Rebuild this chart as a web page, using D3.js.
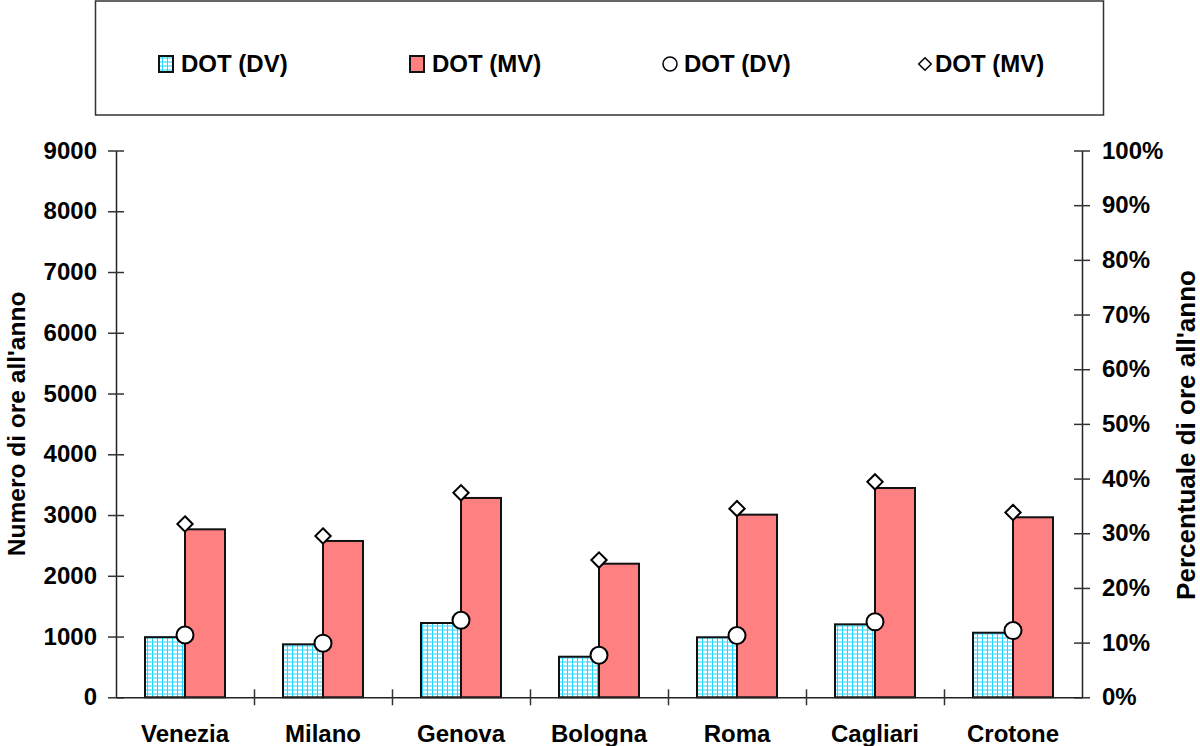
<!DOCTYPE html>
<html><head><meta charset="utf-8">
<script src="https://cdn.jsdelivr.net/npm/d3@7"></script>
<style>body{margin:0;background:#fff}svg{display:block}text{font-family:"Liberation Sans",Arial,sans-serif;font-weight:bold;fill:#000}</style>
</head><body>
<svg id="c" width="1200" height="746"></svg>
<script>
const categories = ["Venezia","Milano","Genova","Bologna","Roma","Cagliari","Crotone"];
const hoursDV = [990, 872, 1223, 668, 988, 1201, 1063];
const hoursMV = [2765, 2573, 3281, 2199, 3006, 3445, 2963];
const pctDV = [11.4, 9.9, 14.1, 7.7, 11.3, 13.8, 12.2];
const pctMV = [31.7, 29.5, 37.4, 25.1, 34.5, 39.4, 33.8];
const leftTicks = [0,1000,2000,3000,4000,5000,6000,7000,8000,9000];
const rightTicks = [0,10,20,30,40,50,60,70,80,90,100];
const legendLabels = ["DOT (DV)","DOT (MV)","DOT (DV)","DOT (MV)"];

const svg = d3.select("#c");
const L = 116, R = 1082, T = 150.5, B = 697.3;
const FS = 24;

const defs = svg.append("defs");
const pat = defs.append("pattern").attr("id","grid").attr("patternUnits","userSpaceOnUse")
  .attr("width",5).attr("height",4);
pat.append("rect").attr("width",5).attr("height",4).attr("fill","#fff");
pat.append("line").attr("x1",2.5).attr("x2",2.5).attr("y1",0).attr("y2",4).attr("stroke","#22d4ff").attr("stroke-width",1);
pat.append("line").attr("x1",0).attr("x2",5).attr("y1",2).attr("y2",2).attr("stroke","#22d4ff").attr("stroke-width",1);

const x = d3.scaleBand().domain(categories).range([L,R]);
const xi = d3.scaleLinear().domain([0,categories.length]).range([L,R]);
const y = d3.scaleLinear().domain([0,9000]).range([B,T]);
const yp = d3.scaleLinear().domain([0,100]).range([B,T]);
const BW = 40;

// bars
const g = svg.append("g");
g.selectAll(".dv").data(categories).join("rect")
  .attr("x", d => x(d)+x.bandwidth()/2-BW).attr("width",BW)
  .attr("y", (d,i) => y(hoursDV[i])).attr("height",(d,i)=> B - y(hoursDV[i]))
  .attr("fill","url(#grid)").attr("stroke","#111").attr("stroke-width",2);
g.selectAll(".mv").data(categories).join("rect")
  .attr("x", d => x(d)+x.bandwidth()/2).attr("width",BW)
  .attr("y", (d,i) => y(hoursMV[i])).attr("height",(d,i)=> B - y(hoursMV[i]))
  .attr("fill","#ff8080").attr("stroke","#111").attr("stroke-width",2);

// axes
const axStyle = sel => { sel.select(".domain").attr("stroke","#222").attr("stroke-width",1.5);
  sel.selectAll(".tick line").attr("stroke","#333").attr("stroke-width",1.5);
  sel.selectAll("text").style("font-size",FS+"px").style("font-weight","bold").style("font-family",'"Liberation Sans",Arial,sans-serif').attr("fill","#000"); };

const ax1 = svg.append("g").attr("transform",`translate(${L},0)`)
  .call(d3.axisLeft(y).tickValues(leftTicks).tickSizeInner(8).tickSizeOuter(0).tickPadding(11).tickFormat(d3.format("d")));
ax1.selectAll(".tick line").attr("x1",8);
axStyle(ax1);

const ax2 = svg.append("g").attr("transform",`translate(${R},0)`)
  .call(d3.axisRight(yp).tickValues(rightTicks).tickSizeInner(8).tickSizeOuter(0).tickPadding(12).tickFormat(d => d+"%"));
ax2.selectAll(".tick line").attr("x1",-8);
axStyle(ax2);

const ax3 = svg.append("g").attr("transform",`translate(0,${B})`)
  .call(d3.axisBottom(xi).tickValues(d3.range(1,categories.length)).tickSizeInner(8).tickSizeOuter(0).tickFormat(""));
ax3.selectAll(".tick line").attr("y1",-8);
axStyle(ax3);

const ax4 = svg.append("g").attr("transform",`translate(0,${B})`)
  .call(d3.axisBottom(x).tickSize(0).tickPadding(28));
ax4.select(".domain").remove();
axStyle(ax4);

// markers
const m = svg.append("g");
m.selectAll("circle").data(categories).join("circle")
  .attr("cx", d => x(d)+x.bandwidth()/2).attr("cy",(d,i)=> yp(pctDV[i])).attr("r",8.5)
  .attr("fill","#fff").attr("stroke","#000").attr("stroke-width",2);
const dia = d3.symbol().type(d3.symbolDiamond2).size(150);
m.selectAll(".dm").data(categories).join("path")
  .attr("transform",(d,i)=>`translate(${x(d)+x.bandwidth()/2},${yp(pctMV[i])})`)
  .attr("d", dia).attr("fill","#fff").attr("stroke","#000").attr("stroke-width",2);

// titles
svg.append("text").attr("transform",`translate(25,${(T+B)/2}) rotate(-90)`).attr("text-anchor","middle")
  .style("font-size","24.5px").text("Numero di ore all'anno");
svg.append("text").attr("transform",`translate(1195,435) rotate(-90)`).attr("text-anchor","middle")
  .style("font-size","26px").text("Percentuale di ore all'anno");

// legend
svg.append("rect").attr("x",95.5).attr("y",1).attr("width",1008).attr("height",114)
  .attr("fill","#fff").attr("stroke","#333").attr("stroke-width",1.5);
const ly = 64;
const textX = [181, 432, 684, 935];
const lg = svg.append("g");
lg.append("rect").attr("x",159).attr("y",ly-8).attr("width",14).attr("height",16).attr("fill","url(#grid)").attr("stroke","#111").attr("stroke-width",2);
lg.append("rect").attr("x",410).attr("y",ly-8).attr("width",14).attr("height",16).attr("fill","#ff8080").attr("stroke","#111").attr("stroke-width",2);
lg.append("circle").attr("cx",670).attr("cy",ly).attr("r",7).attr("fill","#fff").attr("stroke","#000").attr("stroke-width",1.5);
lg.append("path").attr("transform",`translate(925,${ly})`).attr("d", d3.symbol().type(d3.symbolDiamond2).size(100)).attr("fill","#fff").attr("stroke","#000").attr("stroke-width",1.5);
lg.selectAll(".lt").data(legendLabels).join("text")
  .attr("x",(d,i)=> textX[i]).attr("y",ly).attr("dy","0.35em")
  .style("font-size",FS+"px").text(d=>d);
</script>
</body></html>
